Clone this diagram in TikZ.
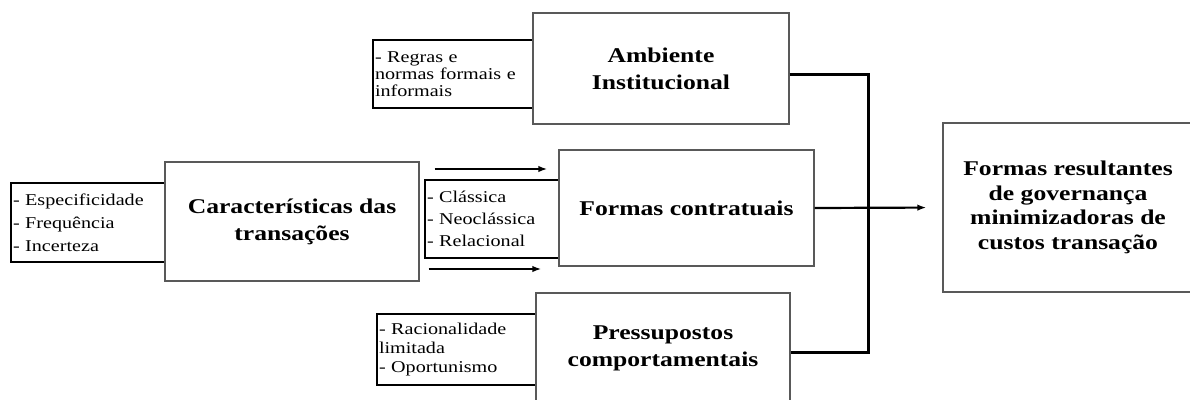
\documentclass[tikz,border=0pt]{standalone}
\usepackage{fontspec}
\setmainfont{Liberation Serif}[FakeStretch=1.22]
\usetikzlibrary{arrows.meta}
\begin{document}
\begin{tikzpicture}[x=1pt,y=-1pt,
  bigbox/.style={draw=black!65, line width=1.4pt, fill=white, inner sep=0pt,
    align=center, font=\fontsize{21}{27}\selectfont\bfseries},
  notebox/.style={draw=black, line width=2pt, fill=white, inner xsep=2pt, inner ysep=0pt,
    align=left},
  conn/.style={line width=3pt, line join=miter},
  arr/.style={line width=2.2pt, -{Latex[length=9pt,width=6.5pt]}}
]
\useasboundingbox (0,0) rectangle (1190,399);

% side notes (drawn first, big boxes cover their right edges)
\node[notebox, text width=156pt, minimum height=68pt, font=\fontsize{16.5}{17}\selectfont]
  (ambnote) at (453,74) {- Regras e\\normas formais e\\informais};
\node[notebox, text width=150pt, minimum height=79pt, font=\fontsize{16.5}{23}\selectfont]
  (carnote) at (88,222.5) {- Especificidade\\- Frequência\\- Incerteza};
\node[notebox, text width=130pt, minimum height=78pt, font=\fontsize{16.5}{22}\selectfont]
  (formnote) at (492,219) {- Clássica\\- Neoclássica\\- Relacional};
\node[notebox, text width=155pt, minimum height=71pt, font=\fontsize{16.5}{19}\selectfont]
  (presnote) at (456.5,349.5) {- Racionalidade\\limitada\\- Oportunismo};

% main boxes
\node[bigbox, minimum width=256pt, minimum height=111pt] (amb) at (661,68.5)
  {Ambiente\\Institucional};
\node[bigbox, minimum width=254pt, minimum height=119pt] (car) at (292,221.5)
  {Características das\\transações};
\node[bigbox, minimum width=255pt, minimum height=116pt] (form) at (686.5,208)
  {Formas contratuais};
\node[bigbox, minimum width=254pt, minimum height=110pt] (pres) at (663,348)
  {Pressupostos\\comportamentais};
\node[bigbox, minimum width=250pt, minimum height=169pt, font=\fontsize{21}{24.5}\selectfont\bfseries]
  (res) at (1068,207.5)
  {Formas resultantes\\de governança\\minimizadoras de\\custos transação};

% connectors
\coordinate (bustop) at (868,74);
\coordinate (busbot) at (868,352);
\coordinate (upper) at (0,169);
\coordinate (lower) at (0,269);
\draw[conn] (amb.east |- bustop) -- (bustop) -- (busbot) -- (pres.east |- busbot);
\draw[arr, shorten >=16pt] (form.east) -- (res.west);
\draw[arr, shorten <=15pt, shorten >=11pt] (car.east |- upper) -- (form.west |- upper);
\draw[arr, shorten <=9pt, shorten >=17pt] (car.east |- lower) -- (form.west |- lower);
\end{tikzpicture}
\end{document}
